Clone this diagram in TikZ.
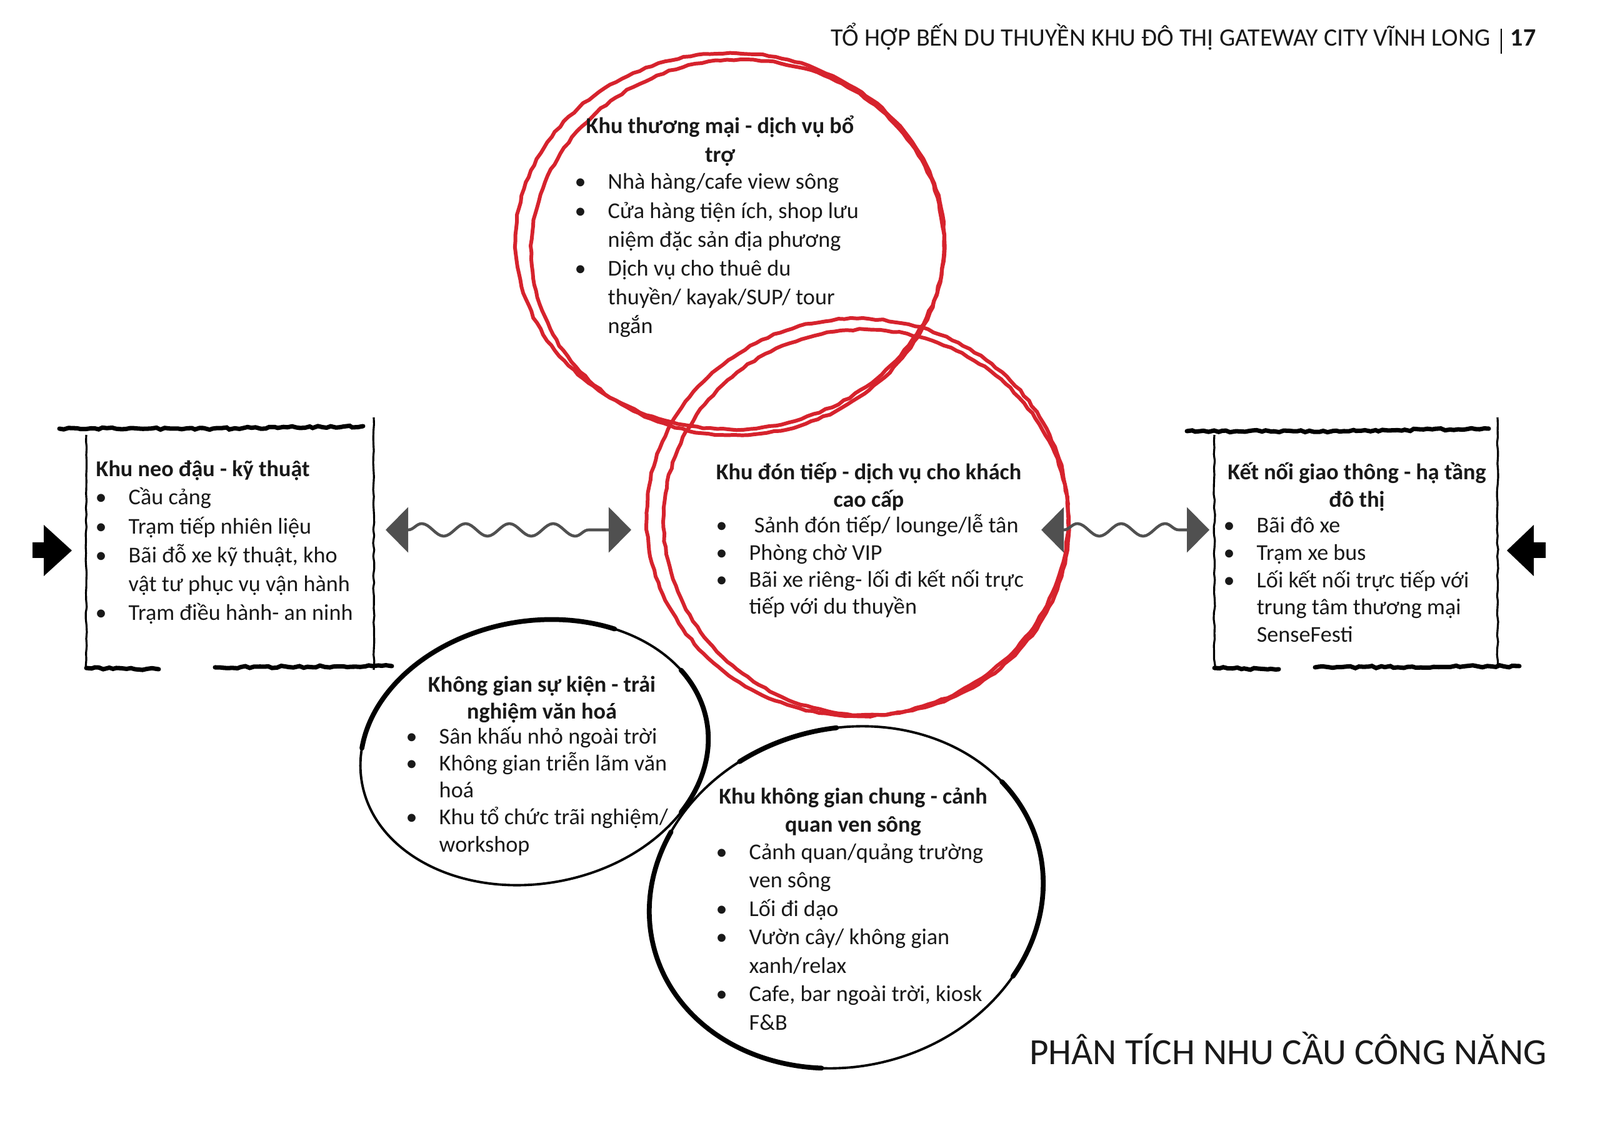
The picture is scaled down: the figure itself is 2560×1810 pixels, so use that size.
\documentclass[tikz,border=0pt]{standalone}
\usepackage{fontspec}
\setmainfont{Carlito}
\usetikzlibrary{decorations.pathmorphing,arrows.meta}

\definecolor{redpen}{RGB}{214,35,45}
\definecolor{arrgray}{RGB}{80,80,80}
\definecolor{ink}{RGB}{25,25,25}

\newlength{\bulw}\setlength{\bulw}{0.47cm}
\newcommand{\bul}[1]{\makebox[\bulw][l]{\hspace*{-0.06cm}\textbullet}#1}
\newcommand{\ind}{\hspace*{\bulw}}
\newcommand{\bodyfont}[1]{\fontsize{10.3}{#1}\selectfont}

\tikzset{
  list/.style={inner sep=0pt, anchor=base west, text=ink},
  ttl/.style={inner sep=0pt, anchor=base, text=ink},
  redloop/.style={draw=redpen, line width=1.7pt, decorate,
    decoration={random steps, segment length=3pt, amplitude=0.35pt}},
  inkloop/.style={draw=black, line width=1.1pt},
  inkthick/.style={draw=black, line width=2.2pt, line cap=round},
  rough/.style={draw=black, line width=2pt, line cap=round, decorate,
    decoration={random steps, segment length=2pt, amplitude=0.5pt}},
  thinrough/.style={draw=black, line width=0.9pt, decorate,
    decoration={random steps, segment length=3pt, amplitude=0.3pt}},
  wavy/.style={draw=arrgray, line width=1.3pt, decorate,
    decoration={snake, segment length=0.7cm, amplitude=0.1cm, pre length=0.36cm, post length=0.36cm},
    {Triangle[length=0.36cm,width=0.72cm]}-{Triangle[length=0.36cm,width=0.72cm]}},
  blockarrow/.style={fill=black},
}

\begin{document}
\begin{tikzpicture}[x=0.01cm,y=-0.01cm]
\useasboundingbox (0,0) rectangle (2560,1810);
\fill[white] (0,0) rectangle (2560,1810);

% header
\node[ttl, anchor=base east, font=\fontsize{11.4}{14}\selectfont] (hdr) at (2385,74)
  {TỔ HỢP BẾN DU THUYỀN KHU ĐÔ THỊ GATEWAY CITY VĨNH LONG};
\coordinate (bart) at (2402,46);
\coordinate (barb) at (2402,86);
\draw[line width=0.6pt] (bart) -- (barb);
\node[ttl, anchor=base west, font=\fontsize{11.4}{14}\selectfont\bfseries] (pg) at (2416,74) {17};

% footer title
\node[ttl, anchor=base east, font=\fontsize{16.8}{20}\selectfont] (foot) at (2475,1703)
  {PHÂN TÍCH NHU CẦU CÔNG NĂNG};

% red circles (two loops each)
\draw[redloop, shift={(1168,386)}] (0,0) ellipse [x radius=3.43cm, y radius=3.01cm];
\draw[redloop, shift={(1180,396)}, rotate=5] (0,0) ellipse [x radius=3.30cm, y radius=3.00cm];
\draw[redloop, shift={(1372,828)}] (0,0) ellipse [x radius=3.37cm, y radius=3.18cm];
\draw[redloop, shift={(1386,836)}, rotate=-6] (0,0) ellipse [x radius=3.24cm, y radius=3.08cm];

% black circles
\begin{scope}[shift={(855,1204)}, rotate=10]
  \draw[inkloop] (0,0) ellipse [x radius=2.80cm, y radius=2.10cm];
  \draw[inkthick] (165:2.80cm and 2.10cm) arc [start angle=165, end angle=55, x radius=2.80cm, y radius=2.10cm];
  \draw[inkthick] (25:2.80cm and 2.10cm) arc [start angle=25, end angle=-40, x radius=2.80cm, y radius=2.10cm];
\end{scope}
\begin{scope}[shift={(1354,1436)}, rotate=15]
  \draw[inkloop] (0,0) ellipse [x radius=3.18cm, y radius=2.70cm];
  \draw[inkthick] (140:3.18cm and 2.70cm) arc [start angle=140, end angle=250, x radius=3.18cm, y radius=2.70cm];
  \draw[inkthick] (-45:3.18cm and 2.70cm) arc [start angle=-45, end angle=25, x radius=3.18cm, y radius=2.70cm];
  \draw[inkthick] (110:3.18cm and 2.70cm) arc [start angle=110, end angle=80, x radius=3.18cm, y radius=2.70cm];
\end{scope}

% left box
\draw[rough] (95,686) -- (340,686) -- (581,682);
\draw[thinrough] (598,668) -- (598,1072);
\draw[thinrough] (138,696) -- (138,1072);
\draw[rough] (138,1069) -- (254,1071);
\draw[rough] (344,1068) -- (627,1066);

% right box
\draw[rough] (1899,690) -- (2150,690) -- (2382,686);
\draw[thinrough] (2396,668) -- (2396,1066);
\draw[thinrough] (1943,696) -- (1943,1072);
\draw[rough] (1943,1069) -- (2046,1071);
\draw[rough] (2104,1068) -- (2431,1066);

% block arrows
\fill[blockarrow] (52,868) -- (70,868) -- (70,840) -- (115,881) -- (70,922) -- (70,893) -- (52,893) -- cycle;
\fill[blockarrow] (2473,868) -- (2454,868) -- (2454,840) -- (2411,881) -- (2454,922) -- (2454,893) -- (2473,893) -- cycle;

% wavy double arrows
\coordinate (wa1) at (617,848);
\coordinate (wb1) at (1010,848);
\draw[wavy] (wa1) -- (wb1);
\coordinate (wa2) at (1666,848);
\coordinate (wb2) at (1935,848);
\draw[wavy] (wa2) -- (wb2);

% top red circle text
\node[ttl] (t1) at (1152,214) {\parbox[t]{8cm}{\centering\bodyfont{13}\bfseries
  Khu thương mại - dịch vụ bổ\\trợ}};
\node[list] (l1) at (925,303) {\parbox[t]{8cm}{\raggedright\bodyfont{13.1}
  \bul{Nhà hàng/cafe view sông}\\
  \bul{Cửa hàng tiện ích, shop lưu}\\
  \ind niệm đặc sản địa phương\\
  \bul{Dịch vụ cho thuê du}\\
  \ind thuyền/ kayak/SUP/ tour\\
  \ind ngắn}};

% left box text
\node[list] (t2) at (153,763) {\bodyfont{13}\bfseries Khu neo đậu - kỹ thuật};
\node[list] (l2) at (158,808) {\parbox[t]{8cm}{\raggedright\bodyfont{13.1}
  \bul{Cầu cảng}\\
  \bul{Trạm tiếp nhiên liệu}\\
  \bul{Bãi đỗ xe kỹ thuật, kho}\\
  \ind vật tư phục vụ vận hành\\
  \bul{Trạm điều hành- an ninh}}};

% middle red circle text
\node[ttl] (t3) at (1390,768) {\parbox[t]{8cm}{\centering\bodyfont{12.3}\bfseries
  Khu đón tiếp - dịch vụ cho khách\\cao cấp}};
\node[list] (l3) at (1151,853) {\parbox[t]{8cm}{\raggedright\bodyfont{12.3}
  \bul{\ Sảnh đón tiếp/ lounge/lễ tân}\\
  \bul{Phòng chờ VIP}\\
  \bul{Bãi xe riêng- lối đi kết nối trực}\\
  \ind tiếp với du thuyền}};

% right box text
\node[ttl] (t4) at (2171,768) {\parbox[t]{8cm}{\centering\bodyfont{12.3}\bfseries
  Kết nối giao thông - hạ tầng\\đô thị}};
\node[list] (l4) at (1963,853) {\parbox[t]{8cm}{\raggedright\bodyfont{12.4}
  \bul{Bãi đô xe}\\
  \bul{Trạm xe bus}\\
  \bul{Lối kết nối trực tiếp với}\\
  \ind trung tâm thương mại\\
  \ind SenseFesti}};

% left black circle text
\node[ttl] (t5) at (867,1107) {\parbox[t]{8cm}{\centering\bodyfont{12.3}\bfseries
  Không gian sự kiện - trải\\nghiệm văn hoá}};
\node[list] (l5) at (655,1190) {\parbox[t]{8cm}{\raggedright\bodyfont{12.3}
  \bul{Sân khấu nhỏ ngoài trời}\\
  \bul{Không gian triễn lãm văn}\\
  \ind hoá\\
  \bul{Khu tổ chức trãi nghiệm/}\\
  \ind workshop}};

% bottom black circle text
\node[ttl] (t6) at (1365,1286) {\parbox[t]{8cm}{\centering\bodyfont{12.9}\bfseries
  Khu không gian chung - cảnh\\quan ven sông}};
\node[list] (l6) at (1151,1375) {\parbox[t]{8cm}{\raggedright\bodyfont{12.95}
  \bul{Cảnh quan/quảng trường}\\
  \ind ven sông\\
  \bul{Lối đi dạo}\\
  \bul{Vườn cây/ không gian}\\
  \ind xanh/relax\\
  \bul{Cafe, bar ngoài trời, kiosk}\\
  \ind F\&B}};
\end{tikzpicture}
\end{document}
